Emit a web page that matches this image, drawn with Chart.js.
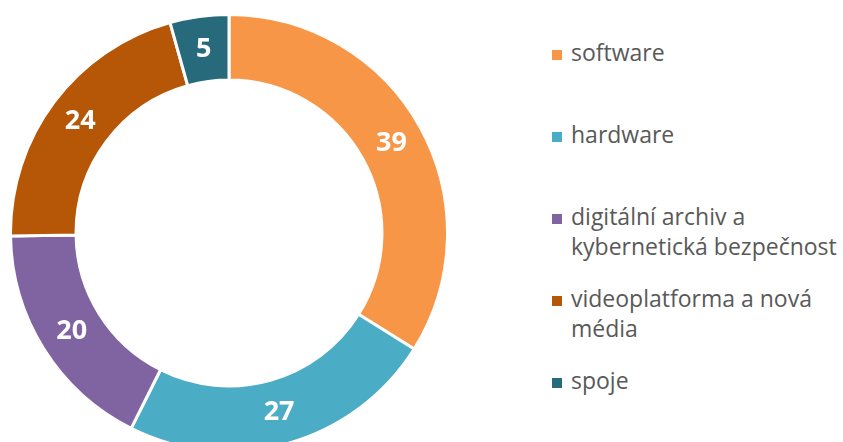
<!DOCTYPE html>
<html>
<head>
<meta charset="utf-8">
<script src="https://cdn.jsdelivr.net/npm/chart.js@4"></script>
<style>
    html, body {
        margin: 0;
        padding: 0;
        width: 843px;
        height: 442px;
        overflow: hidden;
        background: #fff;
        font-family: "Open Sans", sans-serif;
    }
    #chartBox {
        position: absolute;
        left: 9px;
        top: 13px;
        width: 440px;
        height: 440px;
    }
    #legend {
        position: absolute;
        left: 552px;
        top: 0;
        width: 291px;
    }
    .item {
        position: absolute;
        left: 0;
        display: flex;
        align-items: flex-start;
        color: #595959;
        font-size: 23px;
        line-height: 30px;
        white-space: nowrap;
    }
    .swatch {
        width: 10px;
        height: 10px;
        margin-top: 13px;
        margin-right: 9px;
        flex: none;
    }
</style>
</head>
<body>
<div id="chartBox"><canvas id="chart"></canvas></div>
<div id="legend"></div>
<script>
const categories = [
    "software",
    "hardware",
    ["digitální archiv a", "kybernetická bezpečnost"],
    ["videoplatforma a nová", "média"],
    "spoje",
];
const values = [39, 27, 20, 24, 5];
const colors = ["#F79646", "#4BACC6", "#8064A2", "#B65708", "#276A7C"];

// legend rows (top of each item)
const legendTops = [37, 119, 201, 283, 365];

const legend = document.getElementById("legend");
categories.forEach((cat, i) => {
    const row = document.createElement("div");
    row.className = "item";
    row.style.top = legendTops[i] + "px";
    const sw = document.createElement("div");
    sw.className = "swatch";
    sw.style.background = colors[i];
    const txt = document.createElement("div");
    txt.innerHTML = (Array.isArray(cat) ? cat : [cat]).join("<br>");
    row.appendChild(sw);
    row.appendChild(txt);
    legend.appendChild(row);
});

// value labels in the middle of each ring segment
const valueLabels = {
    id: "valueLabels",
    afterDatasetsDraw(chart) {
        const ctx = chart.ctx;
        const meta = chart.getDatasetMeta(0);
        ctx.save();
        ctx.fillStyle = "#fff";
        ctx.font = "bold 27px 'Open Sans', sans-serif";
        ctx.textAlign = "center";
        ctx.textBaseline = "middle";
        meta.data.forEach((arc, i) => {
            const p = arc.tooltipPosition();
            ctx.fillText(String(values[i]), p.x, p.y);
        });
        ctx.restore();
    },
};

new Chart(document.getElementById("chart"), {
    type: "doughnut",
    data: {
        labels: categories.map((c) => (Array.isArray(c) ? c.join(" ") : c)),
        datasets: [
            {
                data: values,
                backgroundColor: colors,
                borderColor: "#fff",
                borderWidth: 3,
            },
        ],
    },
    options: {
        responsive: true,
        maintainAspectRatio: false,
        animation: false,
        cutout: "70%",
        layout: { padding: 0 },
        plugins: {
            legend: { display: false },
            tooltip: { enabled: false },
        },
    },
    plugins: [valueLabels],
});
</script>
</body>
</html>
